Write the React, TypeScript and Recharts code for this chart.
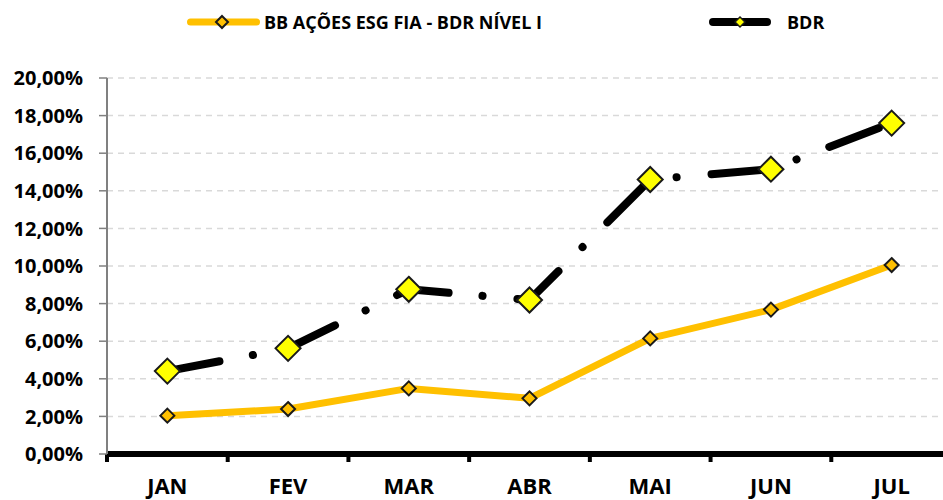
import React from 'react';
import { LineChart, Line, XAxis, YAxis, CartesianGrid } from 'recharts';

const months = ['JAN', 'FEV', 'MAR', 'ABR', 'MAI', 'JUN', 'JUL'];
const fundValues = [2.04, 2.39, 3.49, 2.96, 6.15, 7.68, 10.05];
const bdrValues = [4.41, 5.62, 8.76, 8.19, 14.6, 15.15, 17.6];
const yTicks = [0, 2, 4, 6, 8, 10, 12, 14, 16, 18, 20];
const boundaryTicks = [0, 1, 2, 3, 4, 5, 6, 7];
const fundName = 'BB AÇÕES ESG FIA - BDR NÍVEL I';
const bdrName = 'BDR';

const data = months.map((m, i) => ({ month: m, fund: fundValues[i], bdr: bdrValues[i], pos: i + 0.5 }));

const FONT = '"Open Sans", Arial, sans-serif';
const ORANGE = '#FFC000';
const YELLOW = '#FFFF00';

const makeDiamond = (r: number, fill: string) => (props: any) => {
  const { cx, cy, index } = props;
  if (cx == null || cy == null) return <g key={`n${index}`} />;
  return (
    <path
      key={`d${index}`}
      d={`M${cx},${cy - r}L${cx + r},${cy}L${cx},${cy + r}L${cx - r},${cy}Z`}
      fill={fill}
      stroke="#1a1a1a"
      strokeWidth={2}
    />
  );
};

const Legend = () => (
  <svg width={943} height={45} style={{ position: 'absolute', left: 0, top: 0 }}>
    <line x1={190.5} y1={22} x2={256.5} y2={22} stroke={ORANGE} strokeWidth={7} strokeLinecap="round" />
    <path d="M222,16L228,22L222,28L216,22Z" fill={ORANGE} stroke="#1a1a1a" strokeWidth={2} />
    <text x={264} y={29} fontFamily={FONT} fontWeight={700} fontSize={18} fill="#000">{fundName}</text>
    <line x1={713} y1={22} x2={767} y2={22} stroke="#000" strokeWidth={8} strokeLinecap="round" />
    <path d="M740,17L745,22L740,27L735,22Z" fill={YELLOW} stroke="#1a1a1a" strokeWidth={1.5} />
    <text x={787} y={29} fontFamily={FONT} fontWeight={700} fontSize={18} fill="#000">{bdrName}</text>
  </svg>
);

export default function App() {
  return (
    <div style={{ position: 'absolute', left: 0, top: 0, width: 943, height: 500, overflow: 'hidden', background: '#fff' }}>
      <Legend />
      <div style={{ position: 'absolute', left: 0, top: 0 }}>
        <LineChart width={952} height={500} data={data} margin={{ top: 78, right: 0, left: 0, bottom: 0 }}>
          <CartesianGrid xAxisId="b1" vertical={false} stroke="#d9d9d9" strokeDasharray="6 5" strokeWidth={1.5} />
          <XAxis
            xAxisId="a0"
            dataKey="pos"
            type="number"
            domain={[0, 7]}
            ticks={boundaryTicks}
            interval={0}
            allowDataOverflow
            height={1}
            tickFormatter={() => ''}
            tick={{ fill: 'transparent', fontSize: 1 }}
            tickSize={8}
            tickLine={{ stroke: '#000', strokeWidth: 4 }}
            axisLine={{ stroke: '#000', strokeWidth: 6 }}
          />
          <XAxis
            xAxisId="b1"
            dataKey="month"
            padding={{ left: 60.35, right: 60.35 }}
            height={45}
            tickLine={false}
            axisLine={false}
            tickSize={6}
            tickMargin={17}
            tick={{ fontFamily: FONT, fontWeight: 700, fontSize: 22, fill: '#000' }}
          />
          <YAxis
            width={107}
            domain={[0, 20]}
            ticks={yTicks}
            interval={0}
            tickFormatter={(v: number) => v.toFixed(2).replace('.', ',') + '%'}
            tickSize={8}
            tickMargin={16}
            tickLine={{ stroke: '#808080', strokeWidth: 1.5 }}
            axisLine={{ stroke: '#808080', strokeWidth: 2 }}
            tick={{ fontFamily: FONT, fontWeight: 700, fontSize: 20, fill: '#000' }}
          />
          <Line
            xAxisId="b1"
            type="linear"
            dataKey="fund"
            stroke={ORANGE}
            strokeWidth={7}
            strokeLinejoin="round"
            dot={makeDiamond(7, ORANGE)}
            activeDot={false}
            isAnimationActive={false}
          />
          <Line
            xAxisId="b1"
            type="linear"
            dataKey="bdr"
            stroke="#000"
            strokeWidth={8}
            strokeLinecap="round"
            strokeLinejoin="round"
            strokeDasharray="53 34 0.1 35"
            dot={makeDiamond(12.5, YELLOW)}
            activeDot={false}
            isAnimationActive={false}
          />
        </LineChart>
      </div>
    </div>
  );
}
